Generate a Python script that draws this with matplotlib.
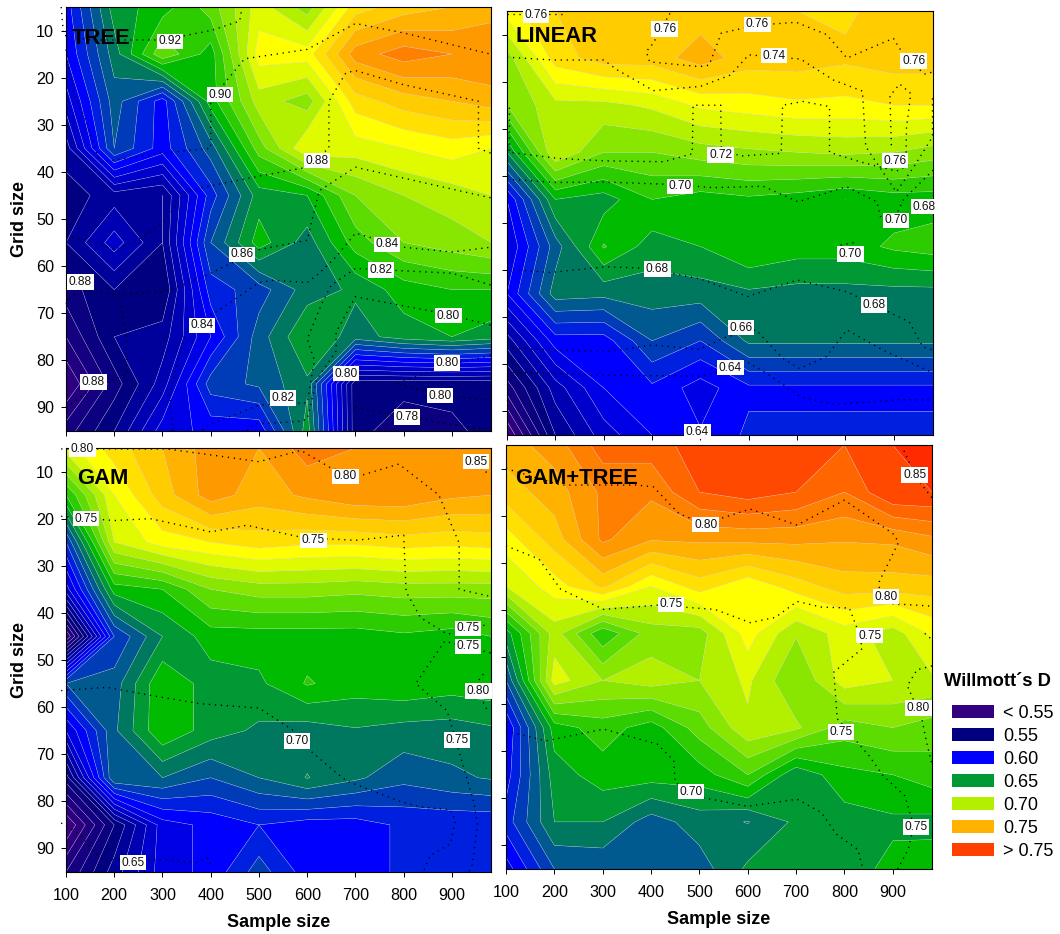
import numpy as np
import matplotlib
matplotlib.use('Agg')
import matplotlib.pyplot as plt
from matplotlib.patches import Patch

plt.rcParams['font.family'] = ['Liberation Sans', 'DejaVu Sans']

sample_size = [100, 200, 300, 400, 500, 600, 700, 800, 900, 981]
grid_size = [5, 15, 25, 35, 45, 55, 65, 75, 85, 95]

# Willmott's D, one row per grid size
tree_d = [
    [.605, .655, .665, .685, .715, .695, .735, .745, .750, .755],
    [.600, .645, .688, .665, .725, .725, .765, .775, .770, .770],
    [.585, .635, .605, .665, .705, .695, .735, .745, .750, .755],
    [.565, .630, .605, .635, .685, .720, .715, .720, .725, .720],
    [.555, .565, .560, .615, .655, .660, .690, .700, .705, .710],
    [.560, .585, .560, .630, .665, .645, .675, .690, .695, .700],
    [.545, .560, .550, .615, .625, .645, .652, .665, .670, .670],
    [.530, .560, .565, .600, .635, .660, .645, .655, .660, .655],
    [.510, .545, .575, .625, .632, .648, .553, .553, .553, .553],
    [.535, .560, .595, .603, .603, .655, .553, .545, .548, .553],
]
linear_d = [
    [.725, .740, .745, .745, .745, .745, .740, .738, .745, .745],
    [.695, .735, .745, .745, .755, .745, .745, .742, .745, .745],
    [.690, .707, .707, .712, .722, .725, .728, .727, .730, .730],
    [.650, .710, .690, .690, .695, .698, .700, .702, .700, .695],
    [.600, .660, .655, .670, .665, .668, .665, .660, .665, .665],
    [.590, .635, .671, .655, .660, .670, .665, .665, .672, .675],
    [.600, .645, .643, .645, .645, .648, .646, .646, .646, .646],
    [.565, .605, .605, .630, .620, .642, .642, .642, .642, .642],
    [.535, .575, .600, .608, .595, .608, .608, .608, .608, .608],
    [.500, .560, .585, .600, .601, .612, .612, .612, .612, .612],
]
gam_d = [
    [.715, .735, .750, .765, .760, .775, .770, .770, .768, .770],
    [.670, .720, .745, .765, .755, .762, .768, .768, .762, .760],
    [.620, .710, .725, .730, .735, .732, .732, .735, .733, .735],
    [.585, .665, .670, .690, .695, .695, .693, .695, .695, .695],
    [.510, .620, .650, .665, .665, .665, .665, .668, .665, .670],
    [.630, .635, .669, .655, .658, .671, .665, .668, .665, .667],
    [.590, .638, .669, .655, .648, .645, .649, .646, .645, .648],
    [.545, .640, .640, .630, .640, .6505, .642, .633, .638, .641],
    [.500, .550, .595, .603, .610, .605, .605, .612, .612, .612],
    [.530, .565, .595, .603, .625, .605, .605, .612, .612, .612],
]
gamtree_d = [
    [.755, .765, .785, .785, .795, .790, .795, .790, .800, .805],
    [.745, .755, .772, .772, .790, .795, .790, .780, .800, .800],
    [.725, .745, .772, .761, .762, .763, .763, .761, .762, .768],
    [.710, .725, .742, .720, .735, .722, .735, .745, .745, .745],
    [.655, .705, .672, .695, .695, .725, .701, .715, .705, .722],
    [.630, .715, .700, .705, .700, .712, .690, .715, .710, .708],
    [.600, .665, .675, .665, .685, .708, .702, .685, .690, .685],
    [.605, .655, .665, .665, .665, .680, .652, .667, .670, .675],
    [.615, .650, .650, .635, .645, .6395, .652, .655, .658, .657],
    [.595, .630, .632, .635, .635, .652, .655, .655, .663, .665],
]

# dotted isolines of the second measure, (sample size, grid size)
tree_lines = [
    [(90, 5), (95, 11), (150, 12), (300, 12), (400, 10), (460, 8), (465, 5)],
    [(100, 14), (115, 23), (145, 30), (170, 38), (200, 37.5), (300, 36), (400, 35), (400, 25), (430, 21),
     (470, 16), (600, 14), (700, 8.5), (800, 10.5), (900, 13), (980, 15)],
    [(980, 36), (955, 35), (955, 25), (800, 21.5), (700, 18.5), (680, 19), (645, 25), (645, 35), (620, 37),
     (600, 39), (495, 41), (350, 44), (300, 51), (240, 55), (200, 56.5), (160, 55), (100, 53.5)],
    [(980, 45.5), (700, 39), (625, 44), (600, 54.5), (500, 56.5), (450, 59), (390, 62), (300, 65.5),
     (200, 66), (125, 65), (100, 68)],
    [(100, 90), (155, 86), (225, 83), (225, 75), (210, 66)],
    [(322, 95), (315, 87), (345, 75), (360, 72.5), (415, 69.5), (500, 63.5), (530, 63), (600, 63.5),
     (625, 61.5), (660, 58), (700, 53), (800, 56), (900, 57), (980, 56)],
    [(980, 64), (900, 61.5), (800, 61), (700, 60.5), (650, 64), (630, 68), (600, 75.5), (615, 80), (600, 89),
     (500, 89.5), (400, 93.5), (380, 95)],
    [(980, 72.5), (880, 70), (700, 66.5), (660, 74), (660, 78), (620, 84), (600, 92.5), (580, 93),
     (490, 93.5), (475, 95)],
    [(980, 79), (890, 81), (785, 85), (880, 87.5), (980, 88.5)],
    [(700, 90), (800, 92), (960, 94.5)],
]
tree_labels = [
    (316, 12.3, '0.92'), (419, 23.6, '0.90'), (620, 37.6, '0.88'), (465, 57.5, '0.86'), (765, 55.4, '0.84'),
    (753, 60.8, '0.82'), (893, 70.5, '0.80'), (130, 63.4, '0.88'), (382, 72.6, '0.84'), (157, 84.6, '0.88'),
    (680, 82.8, '0.80'), (890, 80.6, '0.80'), (875, 87.5, '0.80'), (550, 88, '0.82'), (807, 92, '0.78'),
]
linear_lines = [
    [(100, 5.6), (215, 5.6)],
    [(437, 5.5), (402, 11.9), (388, 13.6), (395, 15.8), (498, 16.8), (518, 16.5), (543, 9.7), (616, 8),
     (698, 7.4), (761, 10), (803, 15), (899, 10.8), (927, 15.4), (965, 18.4), (982, 17.9)],
    [(100, 14.8), (195, 15.4), (300, 15.4), (328, 17.5), (403, 21.9), (500, 21), (562, 18.6), (600, 14.3),
     (707, 15.2), (776, 19.7), (835, 22), (842, 33.8), (905, 43.4), (942, 38), (980, 31.7), (980, 23)],
    [(105, 25.5), (105, 35), (207, 36.3), (300, 36.8), (424, 37), (483, 35.3), (485, 25), (542, 25), (543, 34),
     (582, 35.8), (667, 35.2), (670, 25), (712, 24.2), (767, 25.3), (767, 35), (830, 37), (905, 39), (925, 38),
     (926, 30), (935, 22.5), (912, 20.5), (892, 23), (895, 34)],
    [(100, 40.7), (202, 41.4), (300, 41.3), (437, 41.8), (527, 42.5), (630, 42.2), (702, 45.5), (802, 42.3),
     (865, 45.5), (872, 48.6), (900, 49.4), (920, 45), (981, 38.8)],
    [(790, 54.7), (825, 54)],
    [(100, 59.8), (190, 60.5), (305, 59.3), (388, 59.6), (498, 61.8), (598, 65.6), (700, 62.1), (803, 64.6),
     (932, 71), (960, 76.3), (981, 77)],
    [(100, 76.6), (305, 77.3), (402, 75.9), (498, 76.8), (553, 74.2), (615, 72.7), (670, 78.7), (705, 80.9),
     (760, 78.4), (803, 72.7), (878, 77), (981, 81.8)],
    [(100, 81.6), (300, 82.3), (498, 82.5), (540, 81.6), (590, 79.1), (637, 81.9), (707, 86.9), (775, 88.5),
     (913, 87.5), (981, 87.6)],
]
linear_labels = [
    (160, 5.85, '0.76'), (426, 8.8, '0.76'), (618, 7.8, '0.76'), (652, 14.5, '0.74'), (941, 15.6, '0.76'),
    (542, 35.6, '0.72'), (902, 36.8, '0.76'), (458, 42.2, '0.70'), (963, 46.5, '0.68'), (905, 49.4, '0.70'),
    (810, 56.6, '0.70'), (411, 59.8, '0.68'), (859, 67.4, '0.68'), (584, 72.2, '0.66'), (562, 80.7, '0.64'),
    (494, 94.3, '0.64'),
]
gam_lines = [
    [(90, 5.2), (135, 5.2), (212, 5.2), (308, 5.2), (403, 6.5), (500, 7.9), (587, 5.5), (650, 9.3), (706, 11),
     (790, 8.4), (873, 15), (915, 25.2), (915, 35), (975, 36.4)],
    [(930, 7), (972, 10.2)],
    [(90, 19.5), (200, 20.4), (275, 20), (400, 22.8), (475, 21.4), (590, 24), (700, 24.6), (800, 23.5),
     (805, 35.5), (835, 41), (890, 44.5), (940, 44), (975, 42.2)],
    [(980, 48.5), (885, 46), (857, 50.2), (825, 55), (890, 60.8), (915, 69.5), (945, 80), (953, 85),
     (942, 93.5), (935, 95)],
    [(965, 53), (950, 55)],
    [(965, 59), (975, 61)],
    [(90, 56.5), (185, 55.8), (275, 57.5), (380, 59.3), (500, 60.2), (572, 65), (607, 69.3), (655, 73.5),
     (682, 75.7), (793, 80), (835, 81.2), (897, 81.8), (907, 84), (897, 89), (855, 91.5), (840, 95)],
    [(90, 84.6), (130, 87), (150, 90), (178, 92.4), (300, 92.4), (370, 93), (392, 92), (403, 94)],
]
gam_labels = [
    (134, 5.2, '0.80'), (950, 7.9, '0.85'), (679, 11, '0.80'), (142, 20, '0.75'), (613, 24.6, '0.75'),
    (933, 43.3, '0.75'), (933, 47.1, '0.75'), (955, 56.6, '0.80'), (579, 67.2, '0.70'), (911, 67, '0.75'),
    (239, 93, '0.65'),
]
gamtree_lines = [
    [(923, 6.2), (945, 11.4), (982, 16.4)],
    [(100, 10), (213, 13.5), (370, 13.5), (405, 13.9), (458, 19.6), (510, 21.7), (605, 18.6), (702, 22),
     (800, 16.7), (900, 23.8), (912, 25.6), (872, 34), (872, 36.9), (900, 38.7), (981, 39.2)],
    [(966, 45), (981, 46.3)],
    [(981, 51.9), (950, 52.7), (930, 56.1), (960, 63.2), (970, 68.2), (981, 72.8)],
    [(100, 26.4), (168, 29.2), (213, 35.6), (302, 39.9), (413, 39), (532, 39.9), (605, 42.7), (657, 41.6),
     (702, 38.2), (752, 39.4), (810, 39.6), (829, 44.7), (837, 48.2), (778, 53.2), (785, 63.1), (851, 71),
     (880, 75.2), (925, 79.5), (943, 85.8), (932, 90.8), (910, 95)],
    [(100, 65.7), (183, 67.8), (302, 65.3), (413, 68.5), (447, 72), (450, 76.7), (510, 79.9), (600, 81.7),
     (702, 80.2), (752, 83), (783, 87.6), (828, 90.9), (838, 95)],
]
gamtree_labels = [
    (945, 11.4, '0.85'), (513, 21.9, '0.80'), (441, 38.8, '0.75'), (886, 37.2, '0.80'), (852, 45.5, '0.75'),
    (953, 60.8, '0.80'), (793, 65.9, '0.75'), (483, 78.6, '0.70'), (948, 86.1, '0.75'),
]

legend_labels = ['< 0.55', '0.55', '0.60', '0.65', '0.70', '0.75', '> 0.75']
legend_colors = ['#330080', '#000080', '#0000ff', '#009933', '#b2f000', '#ffb300', '#ff4000']

levels = np.arange(0.49, 0.825, 0.01)
band_colors = [
    '#400080', '#3a0080', '#2e0080', '#200080', '#140080', '#0a0080',
    '#000080', '#00009a', '#0000b3', '#0000cc', '#0000e6',
    '#0000ff', '#0020e0', '#003cb8', '#005a90', '#007860',
    '#009933', '#00bb00', '#2dcc00', '#5cdc00', '#88e600',
    '#b2f000', '#e0fa00', '#ffff00', '#ffe000', '#ffcc00',
    '#ffb300', '#ff9900', '#ff8000', '#ff6600', '#ff4800',
    '#ff2a00', '#ff2a00', '#ff2a00',
]

W, H = 1060, 934
fig = plt.figure(figsize=(W / 100, H / 100), dpi=100)


def panel(box, name, name_xy, values, lines, labels, left=False, bottom=False):
    x0, y0, x1, y1 = box
    ax = fig.add_axes([x0 / W, 1 - y1 / H, (x1 - x0) / W, (y1 - y0) / H])
    ax.contourf(sample_size, grid_size, values, levels=levels, colors=band_colors[:len(levels) - 1],
                extend='neither', antialiased=True)
    ax.contour(sample_size, grid_size, values, levels=levels, colors='#c8c8d8', linewidths=0.3, alpha=0.7)
    for line in lines:
        xs, ys = zip(*line)
        ax.plot(xs, ys, color='black', lw=1.0, linestyle=(0, (0.9, 3.4)), clip_on=False, zorder=4)
    for lx, ly, txt in labels:
        ax.text(lx, ly, txt, fontsize=8.6, ha='center', va='center', zorder=5, color='#111111',
                bbox=dict(facecolor='white', edgecolor='none', pad=1.2))
    ax.set_xlim(100, 981)
    ax.set_ylim(95, 5)
    ax.set_xticks(range(100, 1000, 100))
    ax.set_yticks(range(10, 100, 10))
    ax.tick_params(length=3.5, width=0.7, labelsize=11.6, labelleft=left, labelbottom=bottom)
    ax.tick_params(axis='x', pad=8)
    ax.tick_params(axis='y', pad=5)
    for s in ax.spines.values():
        s.set_linewidth(0.8)
    if left:
        ax.set_ylabel('Grid size', fontsize=13, fontweight='bold', labelpad=6)
    if bottom:
        ax.set_xlabel('Sample size', fontsize=13, fontweight='bold', labelpad=8)
    ax.text(name_xy[0], name_xy[1], name, fontsize=15.8, fontweight='bold', ha='left', va='center', zorder=6)
    return ax


panel((66, 7, 491, 431), 'TREE', (112, 11.6), tree_d, tree_lines, tree_labels, left=True)
panel((507, 11, 933, 435), 'LINEAR', (118, 10.5), linear_d, linear_lines, linear_labels)
panel((66, 448, 491, 872), 'GAM', (124, 11.5), gam_d, gam_lines, gam_labels, left=True, bottom=True)
panel((506, 445, 932, 869), 'GAM+TREE', (118, 12.2), gamtree_d, gamtree_lines, gamtree_labels, bottom=True)

fig.text(944 / W, 1 - 682 / H, 'Willmott\u00b4s D', fontsize=13.2, fontweight='bold', ha='left', va='center')
handles = [Patch(facecolor=c, edgecolor='none') for c in legend_colors]
fig.legend(handles, legend_labels, frameon=False, fontsize=13,
           loc='upper left', bbox_to_anchor=(952 / W, 1 - 705 / H), borderaxespad=0, borderpad=0,
           handlelength=2.3, handleheight=0.72, handletextpad=0.55, labelspacing=0.33)

plt.savefig('out.png', dpi=100)
